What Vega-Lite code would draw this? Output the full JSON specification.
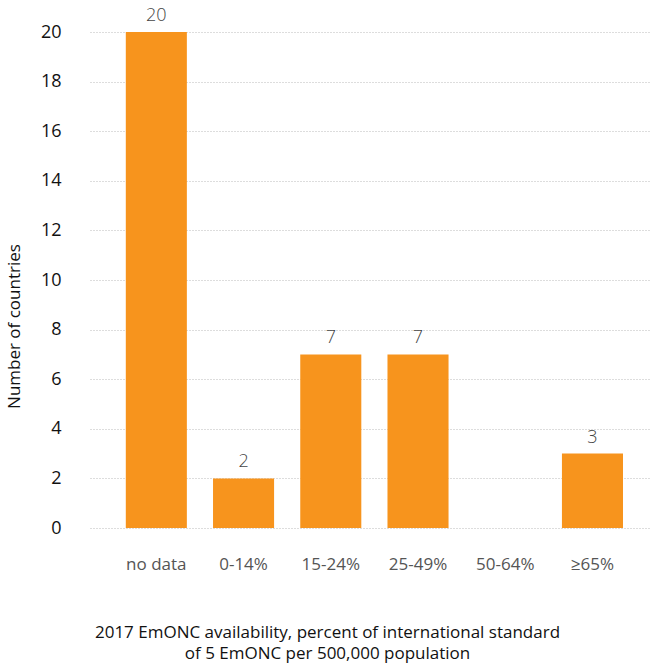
{
  "$schema": "https://vega.github.io/schema/vega-lite/v6.json",
  "width": 560,
  "height": 496,
  "autosize": {"type": "none"},
  "padding": {"left": 90, "top": 32, "right": 2, "bottom": 137},
  "background": "white",
  "config": {
    "font": "Open Sans",
    "view": {"stroke": null}
  },
  "data": {
    "values": [
      {"category": "no data", "count": 20},
      {"category": "0-14%", "count": 2},
      {"category": "15-24%", "count": 7},
      {"category": "25-49%", "count": 7},
      {"category": "50-64%", "count": 0},
      {"category": "≥65%", "count": 3}
    ]
  },
  "encoding": {
    "x": {
      "field": "category",
      "type": "nominal",
      "sort": null,
      "scale": {"paddingInner": 0.3, "paddingOuter": 0.36, "align": 0.57},
      "axis": {
        "title": ["2017 EmONC availability, percent of international standard", "of 5 EmONC per 500,000 population"],
        "titleFontSize": 17,
        "titleFontWeight": "normal",
        "titleColor": "#111",
        "titleX": 237,
        "titleY": 104,
        "titleAnchor": null,
        "titleAlign": "center",
        "titleBaseline": "middle",
        "titleLineHeight": 21,
        "labelAngle": 0,
        "labelFontSize": 17,
        "labelColor": "#555",
        "labelPadding": 28,
        "labelDx": -5,
        "labelBaseline": "top",
        "ticks": false,
        "domain": false,
        "grid": false
      }
    },
    "y": {
      "field": "count",
      "type": "quantitative",
      "scale": {"domain": [0, 20], "nice": false},
      "axis": {
        "title": "Number of countries",
        "titleFontSize": 17,
        "titleFontWeight": "normal",
        "titleColor": "#111",
        "titleAngle": 270,
        "titleX": -76,
        "titleY": 294,
        "titleAlign": "center",
        "titleBaseline": "middle",
        "values": [0, 2, 4, 6, 8, 10, 12, 14, 16, 18, 20],
        "labelFontSize": 18,
        "labelColor": "#111",
        "labelPadding": 29,
        "ticks": false,
        "domain": false,
        "grid": true,
        "gridColor": "#bbbbbb",
        "gridDash": [1, 2],
        "gridWidth": 1
      }
    }
  },
  "layer": [
    {"mark": {"type": "bar", "color": "#F7941D"}},
    {
      "transform": [{"filter": "datum.count > 0"}],
      "mark": {"type": "text", "baseline": "bottom", "dy": -7, "fontSize": 18, "fontWeight": 300, "color": "#444"},
      "encoding": {"text": {"field": "count", "type": "quantitative"}}
    }
  ]
}
